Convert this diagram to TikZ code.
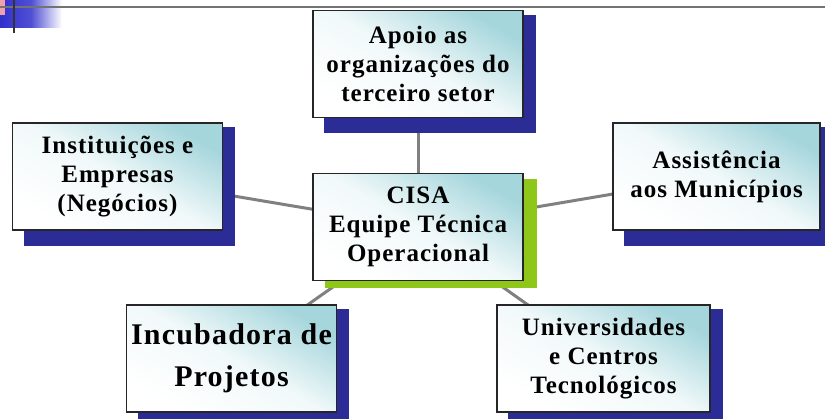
\documentclass[tikz,border=0pt]{standalone}
\usepackage{fontspec}
\newfontfamily\boxfont{Liberation Serif}[LetterSpace=4.0]
\usetikzlibrary{shadings}
\pgfdeclarelayer{background}
\pgfsetlayers{background,main}
\definecolor{boxteal}{RGB}{165,214,220}
\definecolor{shblue}{RGB}{44,44,150}
\definecolor{shgreen}{RGB}{142,198,26}
\definecolor{linkgray}{RGB}{128,128,128}
\definecolor{decoblue}{RGB}{48,48,205}
\definecolor{decopink}{RGB}{240,160,170}
\tikzset{
  box/.style={draw=black!85, line width=1.1pt, minimum width=210pt, minimum height=107pt,
    align=center, inner sep=0pt, top color=boxteal, bottom color=white, middle color=white!85!boxteal,
    shading angle=-30,
    font=\boxfont\bfseries\fontsize{25}{29}\selectfont},
  bigbox/.style={box, font=\boxfont\bfseries\fontsize{30}{42}\selectfont},
  link/.style={draw=linkgray, line width=3pt},
  deco/.style={draw=black!80, line width=2pt}
}
\begin{document}
\begin{tikzpicture}[x=1pt,y=-1pt]
\useasboundingbox (0,0) rectangle (825,419);
% top-left decoration
\shade[left color=decoblue, right color=white, middle color=decoblue!85] (0,0) rectangle (62,28);
\fill[decopink] (0,0) rectangle (5,15);
\draw[draw=black!55, line width=1.5pt] (0,7) -- (825,7);
\draw[deco] (14,0) -- (14,33);
% boxes
\node[box] (top) at (418,64) {Apoio as\\organizações do\\terceiro setor};
\node[box] (cisa) at (418,227) {CISA\\Equipe Técnica\\Operacional};
\node[box] (inst) at (117.5,176.5) {Instituições e\\Empresas\\(Negócios)};
\node[box, minimum width=207pt] (assist) at (716.5,176.5) {Assistência\\aos Municípios};
\node[bigbox] (incub) at (231.5,358.5) {Incubadora de\\Projetos};
\node[box, minimum width=213pt] (univ) at (603.5,358.5) {Universidades\\e Centros\\Tecnológicos};
\begin{pgfonlayer}{background}
  \draw[link] (cisa.center) -- (top.center);
  \draw[link] (cisa.center) -- (inst.center);
  \draw[link] (cisa.center) -- (assist.center);
  \draw[link] (cisa.center) -- (incub.center);
  \draw[link] (cisa.center) -- (univ.center);
  \foreach \n in {top,inst,assist,incub,univ}{
    \fill[shblue] ([xshift=12pt,yshift=-5pt]\n.north west) rectangle ([xshift=12pt,yshift=-15pt]\n.south east);
  }
  \fill[shgreen] ([xshift=13pt,yshift=-6pt]cisa.north west) rectangle ([xshift=13pt,yshift=-7pt]cisa.south east);
\end{pgfonlayer}
\end{tikzpicture}
\end{document}
